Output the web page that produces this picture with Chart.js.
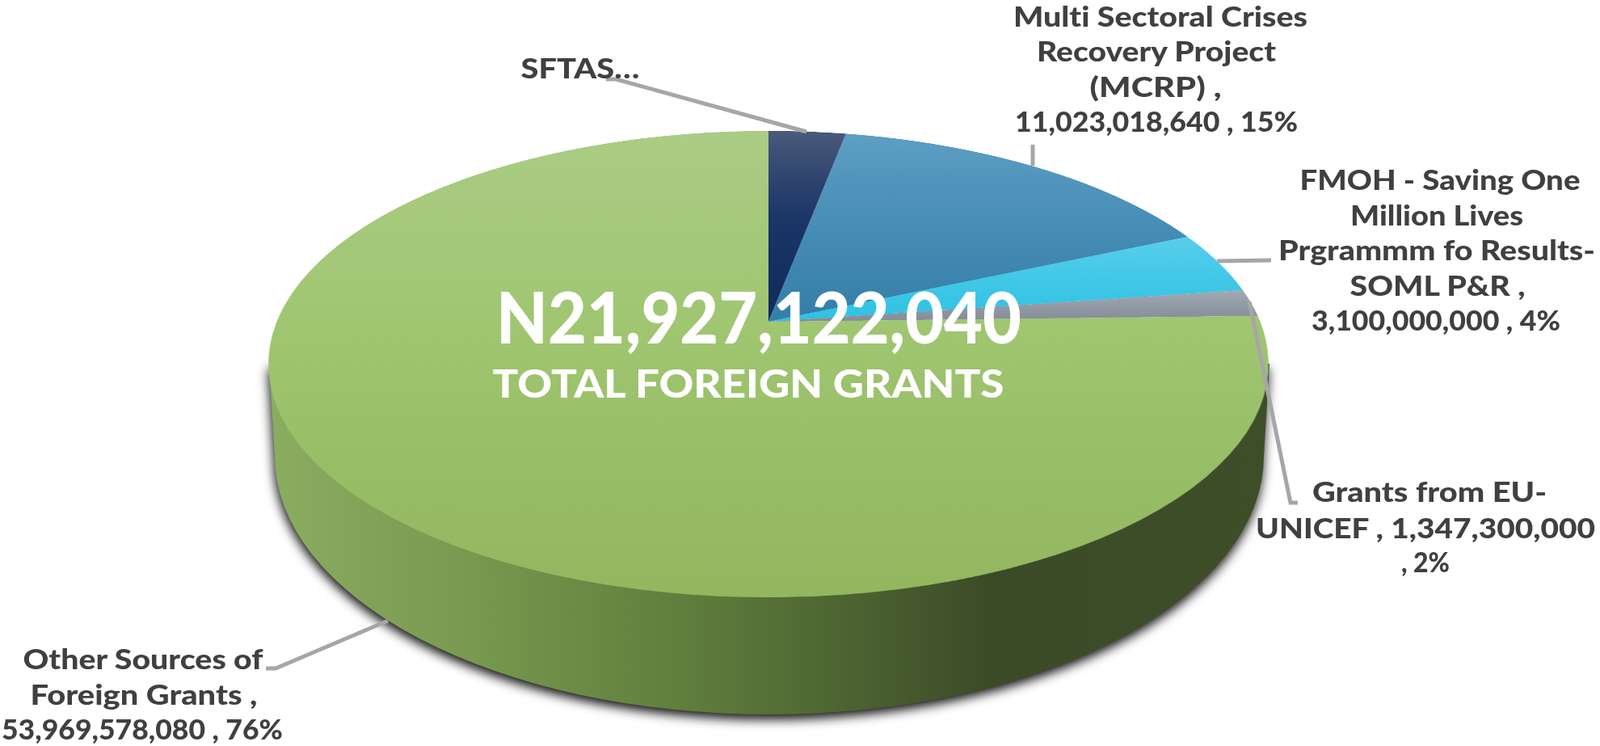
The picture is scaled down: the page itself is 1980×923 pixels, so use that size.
<!DOCTYPE html>
<html>
<head>
<meta charset="utf-8">
<title>Total Foreign Grants</title>
<script src="https://cdn.jsdelivr.net/npm/chart.js@4"></script>
<style>
  html, body { margin: 0; padding: 0; width: 1980px; height: 923px; overflow: hidden; background: #fff; }
  canvas, svg { position: absolute; }
  #wall { left: 0; top: 0; }
  /* circle flattened into the tilted top face, apex lands on 951,398 */
  #pie {
    left: 301px; top: -252px;
    transform-origin: 650px 650px;
    transform: matrix3d(0.9815,0,0,0, 0,0.45,0,-0.0002935, 0,0,1,0, 0,0,0,1);
  }
  #overlay { left: 0; top: 0; font-family: Lato, sans-serif; font-weight: 900; white-space: pre; font-variant-ligatures: none; }
  #overlay text { text-anchor: middle; }
  .lbl { font-size: 35px; fill: #404040; }
  .big { font-size: 88px; fill: #fff; }
  .sub { font-size: 47px; fill: #fff; }
  .lead { fill: none; stroke: #a6a6a6; stroke-width: 5; }
</style>
</head>
<body>
<canvas id="wall" width="1980" height="923"></canvas>
<canvas id="pie" width="1300" height="1300"></canvas>
<svg id="overlay" width="1980" height="923" xmlns="http://www.w3.org/2000/svg"></svg>
<script>
  const categories = ["SFTAS", "Multi Sectoral Crises Recovery Project (MCRP)", "FMOH - Saving One Million Lives Prgrammm fo Results-SOML P&R", "Grants from EU-UNICEF", "Other Sources of Foreign Grants"];
  // SFTAS value is hidden in the picture, 3% of the total is about this much
  const grantValues = [2130000000, 11023018640, 3100000000, 1347300000, 53969578080];

  const totalValue = "N21,927,122,040";
  const totalCaption = "TOTAL FOREIGN GRANTS";

  const labelLines = [
    ["SFTAS…"],
    ["Multi Sectoral Crises", "Recovery Project", "(MCRP) ,", "11,023,018,640 , 15%"],
    ["FMOH - Saving One", "Million Lives", "Prgrammm fo Results-", "SOML P&R ,", "3,100,000,000 , 4%"],
    ["Grants from EU-", "UNICEF ,  1,347,300,000", ", 2%"],
    ["Other Sources of", "Foreign Grants ,", "53,969,578,080 , 76%"]
  ];

  // per line: centre x, baseline y, width
  const labelPlaces = [
    [[718, 97, 147]],
    [[1436, 33, 364], [1431, 76, 296], [1430, 120, 163], [1431, 163, 350]],
    [[1782, 235, 347], [1778, 279, 214], [1778, 322, 392], [1779, 366, 217], [1777, 409, 308]],
    [[1769, 621, 290], [1764, 666, 420], [1764, 708, 60]],
    [[177, 828, 297], [178, 872, 281], [176, 915, 348]]
  ];

  const leaderLines = [
    "750,98 762,98 998,163",
    "1278,179 1278,205",
    "1506,323 1573,322",
    "1546,373 1597,622 1606,622",
    "480,768 341,827 329,827"
  ];

  // from, to as fraction of the radius above centre (1 = rim top, -1 = rim bottom)
  const sliceShades = [
    { from: 1, to: 0, stops: [[0, "#4a5a7b"], [0.5, "#1b3566"], [1, "#0f2a5c"]] },
    { from: 1, to: 0, stops: [[0, "#5f9fc4"], [1, "#337ea9"]] },
    { from: 0.41, to: 0, stops: [[0, "#58cfec"], [1, "#2ec1e3"]] },
    { from: 0.15, to: 0, stops: [[0, "#a3abb4"], [1, "#838c97"]] },
    { from: 1, to: -1, stops: [[0, "#abcc85"], [0.5, "#a0c672"], [1, "#92b75f"]] }
  ];

  const wallStops = [[0, "#8aad60"], [0.2, "#78994f"], [0.42, "#5f7d3c"], [0.6, "#4a6030"], [0.72, "#3c4b27"], [1, "#3e4e29"]];

  const PIE_R = 620, PIE_C = 650;

  function drawWall() {
    const ctx = document.getElementById("wall").getContext("2d");
    const grad = ctx.createLinearGradient(333, 0, 1571, 0);
    wallStops.forEach(s => grad.addColorStop(s[0], s[1]));
    ctx.beginPath();
    ctx.ellipse(952, 564, 612, 320, 0, 0, Math.PI);
    ctx.lineTo(333, 450);
    ctx.lineTo(1571, 450);
    ctx.closePath();
    ctx.save();
    ctx.shadowColor = "rgba(0,0,0,.95)";
    ctx.shadowBlur = 14;
    ctx.shadowOffsetX = -1;
    ctx.shadowOffsetY = 6;
    ctx.fillStyle = grad;
    ctx.fill();
    ctx.restore();
  }

  function sliceFills(ctx) {
    return sliceShades.map(s => {
      const g = ctx.createLinearGradient(0, PIE_C - s.from * PIE_R, 0, PIE_C - s.to * PIE_R);
      s.stops.forEach(st => g.addColorStop(st[0], st[1]));
      return g;
    });
  }

  function drawPie() {
    const el = document.getElementById("pie");
    new Chart(el, {
      type: "pie",
      data: {
        labels: categories,
        datasets: [{ data: grantValues, backgroundColor: sliceFills(el.getContext("2d")), borderWidth: 0, radius: PIE_R, clip: false }]
      },
      options: {
        responsive: false,
        animation: false,
        layout: { padding: 0 },
        plugins: { legend: { display: false }, tooltip: { enabled: false } }
      }
    });
  }

  function addSvg(tag, attrs, text) {
    const n = document.createElementNS("http://www.w3.org/2000/svg", tag);
    Object.keys(attrs).forEach(k => n.setAttribute(k, attrs[k]));
    if (text) n.textContent = text;
    document.getElementById("overlay").appendChild(n);
  }

  function addText(cls, str, place) {
    addSvg("text", { class: cls, x: place[0], y: place[1], textLength: place[2], lengthAdjust: "spacingAndGlyphs" }, str);
  }

  function drawOverlay() {
    leaderLines.forEach(p => addSvg("polyline", { class: "lead", points: p }));
    labelLines.forEach((lines, i) => lines.forEach((l, j) => addText("lbl", l, labelPlaces[i][j])));
    addText("big", totalValue, [939, 425, 650]);
    addText("sub", totalCaption, [926, 492, 633]);
  }

  drawWall();
  drawPie();
  drawOverlay();
</script>
</body>
</html>
